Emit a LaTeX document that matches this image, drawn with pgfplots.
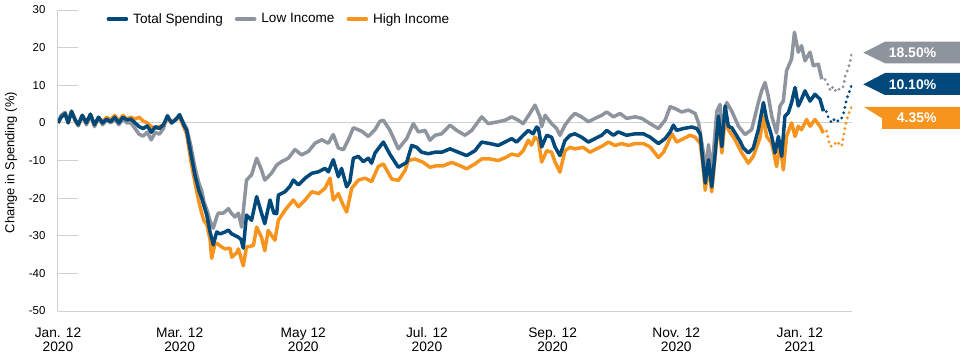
\documentclass[border=0pt]{standalone}
\usepackage{pgfplots}
\pgfplotsset{compat=1.18}
\usepackage{fontspec}
\setmainfont{Liberation Sans}
\definecolor{tsblue}{RGB}{0,73,122}
\definecolor{lowgray}{RGB}{142,148,158}
\definecolor{highorange}{RGB}{247,148,30}
\definecolor{axgray}{RGB}{208,208,208}
\begin{document}
\begin{tikzpicture}
\begin{axis}[
  at={(0,0)}, anchor=south west,
  scale only axis, width=794bp, height=301bp,
  xmin=0, xmax=391.7, ymin=-50, ymax=30,
  enlargelimits=false,
  axis x line*=bottom, axis y line*=left,
  axis line style={-, draw=axgray, line width=1bp},
  ytick={-50,-40,-30,-20,-10,0,10,20,30},
  ytick pos=left, tick align=inside,
  major tick length=20bp,
  ytick style={draw=axgray, line width=1bp},
  xtick style={draw=none},
  xtick={0,60,121,182,244,305,366},
  xticklabels={{Jan. 12\\2020},{Mar. 12\\2020},{May 12\\2020},{Jul. 12\\2020},{Sep. 12\\2020},{Nov. 12\\2020},{Jan. 12\\2021}},
  xticklabel style={align=center, font=\fontsize{13.8}{14}\selectfont, yshift=-13bp},
  yticklabel style={font=\fontsize{11.5}{12}\selectfont, xshift=-9bp},
  /pgf/number format/assume math mode=true,
  ylabel={Change in Spending (\%)},
  ylabel style={at={(rel axis cs:-0.0592,0.493)}, anchor=center, font=\fontsize{13}{14}\selectfont},
  legend image code/.code={\draw[#1] (0bp,0bp) -- (18bp,0bp);},
  legend style={at={(rel axis cs:0.061,0.97)}, anchor=west, draw=none, fill=none,
    font=\fontsize{13.6}{14}\selectfont, inner sep=0pt,
    /tikz/every odd column/.append style={column sep=3bp},
    /tikz/every even column/.append style={column sep=10bp}},
  legend columns=3,
  line join=round,
]
\addlegendimage{color=tsblue, line width=3.6bp, line cap=round}
\addlegendentry{Total Spending}
\addlegendimage{color=lowgray, line width=3.6bp, line cap=round}
\addlegendentry{Low Income}
\addlegendimage{color=highorange, line width=3.6bp, line cap=round}
\addlegendentry{High Income}

\addplot[forget plot, axgray, line width=1bp] coordinates {(0,0) (391.7,0)};

% Low Income (solid)
\addplot[forget plot, lowgray, line width=3.5bp] coordinates {
(0,0) (1.5,2) (3.5,2.8) (5,0.2) (6.7,3.2) (8.5,0.5) (10,-0.8) (12,2) (14,-0.5) (16,2)
(18,-1) (20,1.2) (22,-0.5) (24,0.8) (26,0) (28,1) (30,-0.5) (32,1) (34,0) (36,0)
(38,-1.5) (40,-3) (42,-3.5) (44,-2.5) (46,-4.5) (48,-2.5) (50,-3) (52,-1.5) (54,2) (56,0)
(58,1) (60,2) (62,0) (63.5,-1.5) (65.5,-6) (67.6,-12) (69.5,-16) (70.9,-18) (72,-21) (73.4,-23)
(75,-26) (76.6,-28) (78.3,-25) (79.1,-24) (81.5,-24) (84.1,-22.8) (85.5,-24) (87.3,-25) (89,-24) (90.6,-27.7)
(93,-15.2) (95.5,-13.8) (98,-9.4) (100.4,-12.5) (102,-15.2) (105.3,-13.4) (107.9,-11.2) (110.3,-10.3) (113.6,-9.4) (116.9,-7.1)
(120.2,-8.5) (123.5,-7.6) (126.8,-5.4) (130.1,-4.5) (133.4,-5.4) (135.8,-3.1) (138.3,-6.7) (140.8,-7.1) (143.2,-4.5) (145.7,-1.3)
(149.8,-2.2) (153.1,-3.6) (156.4,-1.8) (158.8,0.4) (160.5,0.7) (163.8,-2) (167.9,-6.9) (172,-4.2) (175.3,-0.2) (177.8,-2.4)
(181.1,-2) (183.5,-4.6) (186,-3.3) (189.3,-2.9) (193.4,-0.6) (196.7,-2) (200.8,-3.3) (204.1,-2) (209,1.6) (212.3,-0.2)
(217.2,0.3) (220.5,0.7) (223.8,1.6) (227.1,0.7) (229.5,-0.2) (232.8,2.5) (235.3,4.7) (237.8,1.6) (238.6,-1) (240.3,2)
(243.5,-0.2) (246,-1.5) (247.6,-3.3) (250.1,-0.6) (252.6,1.2) (255,2.5) (258.3,1.6) (261.6,0.3) (264.9,1.2) (268.2,2)
(270.7,2.9) (274,1.6) (277.3,2.5) (280.5,1.2) (284.7,1.6) (288,1.2) (292.1,-0.2) (296.2,-1.5) (299.5,0.7) (302,4.3)
(304.4,3.8) (307.7,2.9) (311,3.4) (314.3,2.5) (316,0) (318.4,-8) (319.3,-14.3) (320.9,-5.8) (322.5,-13.4) (325,3.1)
(326.6,4.9) (327.5,-1.8) (329.9,5.4) (332.4,3.1) (335.7,-0.9) (338.9,-3.1) (342.2,-1.8) (345.5,5.4) (347.1,8.5) (348.8,10.7)
(350.4,7.1) (352.1,1.8) (354.5,-2.7) (356.2,4.5) (357.8,5.8) (359.4,13.8) (361.9,17) (363.3,24.1) (365.2,18.8) (366.8,20.5)
(368.5,16.5) (371,18.8) (372.6,15.2) (375.1,15.6) (376.8,11.6)
};
\addplot[forget plot, lowgray, line width=3.2bp, line cap=round, dash pattern=on 0bp off 5.5bp] coordinates {
(378.4,11.5) (379.2,11) (380.9,8.8) (381.7,9.7) (383.3,8.4) (384.1,9.3) (385.8,8.8) (387.5,9.7) (388.3,12.4) (389.9,14.6) (390.8,16.4) (391.6,18.5)
};

% High Income (solid)
\addplot[forget plot, highorange, line width=3.5bp] coordinates {
(0,0) (1.5,1.5) (3.5,2.5) (5,0) (6.7,3) (8.5,0.8) (10,-0.5) (12,2) (14,0) (16,2.3)
(18,-0.5) (20,1.5) (22,0.3) (24,1.5) (26,0.8) (28,2) (30,0.5) (32,2) (34,1) (36,1.5)
(38,1) (40,1.5) (42,0.5) (44,0) (46,-1) (48,-1.5) (50,-1) (52,-0.5) (54,1) (56,0.3)
(58,0.8) (60,1.5) (62,-1) (63.5,-3) (65.5,-10) (67.6,-16) (69.5,-21) (70.9,-24) (72,-26) (73.4,-27)
(75,-31) (75.8,-36) (77.5,-32) (78.3,-32) (80.8,-33) (82.5,-33.5) (84.9,-33.3) (85.7,-35.7) (88.2,-34.5) (89,-33.5)
(91.4,-38) (93,-33) (96.4,-32.6) (98,-27.7) (100.4,-30.4) (102,-34) (103.7,-28.6) (107,-31.2) (108.7,-25.9) (112,-23.2)
(116.1,-20.5) (118.6,-22.3) (121.9,-20.5) (125.2,-18.3) (128.5,-18.8) (131.7,-17.4) (134.2,-14.7) (135.8,-20.5) (138.3,-18.8) (140.8,-22)
(142.4,-23.7) (144.9,-17.4) (148.2,-15.2) (151.5,-14.7) (154.7,-15.6) (158,-11.6) (160.5,-10.9) (164.6,-14.9) (167.9,-15.3) (171.2,-12.7)
(172.8,-10) (176.1,-9.6) (180.2,-10.5) (183.5,-11.8) (186.8,-11.4) (190.1,-11.4) (194.2,-10.5) (198.4,-11.4) (201.6,-12.2) (205.7,-10.9)
(209,-9.6) (213.1,-9.6) (217.2,-10) (221.3,-9.1) (223.8,-8.3) (227.1,-8.7) (229.5,-7.4) (232,-4.6) (233.6,-5.9) (235.3,-3.8)
(237,-4.6) (238.6,-10.4) (241.1,-7.4) (243.5,-7.8) (245.2,-10.4) (247.6,-13.1) (250.1,-7.4) (252.6,-6.5) (255,-6.9) (259.1,-6.5)
(262.4,-7.8) (265.7,-6.9) (269,-6) (271.5,-5.1) (274.8,-6) (278.1,-5.5) (281.4,-6) (284.7,-5.5) (288.8,-5.5) (292.1,-6.4)
(296.2,-9.2) (298.7,-7.8) (301.1,-5.1) (302.8,-2.9) (305.2,-5.1) (308.5,-4.2) (311.8,-3.3) (314.3,-3.8) (316.8,-5.4) (318.4,-12.5)
(319.3,-17.9) (320.9,-11.6) (322.5,-18.3) (324.2,-8.9) (325.8,0.9) (327.5,-8) (329.1,1.3) (330.7,-1.8) (334,-4.5) (337.3,-8)
(340.6,-10.7) (343,-8.9) (346.3,-4) (348,1.8) (349.6,-3.6) (352.1,-5.4) (354.5,-11.6) (356.2,-5.4) (357.8,-12.5) (359.4,-3.6)
(361.9,0) (363.6,-3.6) (365.2,-0.9) (366.8,-1.8) (369.3,0.9) (371,-0.9) (373.4,0.9) (375.9,-0.9) (377.6,-2.7)
};
\addplot[forget plot, highorange, line width=3.2bp, line cap=round, dash pattern=on 0bp off 5.5bp] coordinates {
(379.2,-2.2) (380,-4.4) (380.9,-6.2) (382.5,-6.2) (384.1,-4.9) (385.8,-5.8) (386.6,-6.2) (387.5,-3.5) (388.3,-1.3) (389.1,0.9) (390.8,3.5) (391.6,4.35)
};

% Total Spending (solid)
\addplot[forget plot, tsblue, line width=3.5bp] coordinates {
(0,0) (1.5,1.5) (3.5,2.5) (5,0) (6.7,3) (8.5,0.8) (10,-0.5) (12,2) (14,0) (16,2.3)
(18,-0.5) (20,1.5) (22,0) (24,1) (26,0.3) (28,1.5) (30,0) (32,1.5) (34,0.8) (36,1)
(38,0) (40,-1) (42,-1.5) (44,-0.8) (46,-2.5) (48,-1) (50,-1.5) (52,-0.5) (54,1.8) (56,0)
(58,0.8) (60,2.2) (62,-0.5) (63.5,-2) (65.5,-8) (67.6,-14) (69.5,-18) (70.9,-20) (72,-22) (73.4,-24.5)
(75,-29) (76.6,-32.4) (78.3,-29) (80,-29.5) (82.4,-29) (84,-28.5) (85.7,-29.5) (87.5,-30) (89,-30.4) (90.3,-31)
(91.4,-33.3) (93,-24.5) (95.5,-25.9) (98,-19.6) (100.4,-24) (102,-26.8) (104.6,-20.5) (106.5,-24) (107.9,-24.1) (108.7,-19.2)
(112,-18.3) (114.5,-16.8) (116.1,-15.2) (118.6,-16.5) (121.9,-14.7) (125.2,-13.4) (128.5,-13) (131.7,-12.1) (133.4,-13) (135.8,-9.8)
(138.3,-14.3) (139.9,-12.1) (142.4,-17) (144,-15.6) (145.7,-9.4) (148.2,-8.9) (150.6,-10.3) (153.1,-9.4) (154.7,-10.7) (156.4,-8)
(158.8,-6.3) (160.5,-5.1) (163.8,-8.4) (167.9,-11.8) (172,-10.5) (174.5,-6) (177,-6.5) (179.4,-7.8) (182.7,-8.2) (186,-7.8)
(189.3,-7.8) (193.4,-6.9) (197.5,-7.8) (201.6,-8.7) (205.7,-7.4) (209,-5.1) (213.1,-5.5) (217.2,-6) (220.5,-5.1) (223.8,-4.2)
(226.2,-5.1) (229.5,-3.3) (232,-2) (234.4,-2.9) (236.1,-1.1) (237,-1.5) (238.6,-6.4) (241.1,-3.3) (243.5,-3.8) (245.2,-6.4)
(247.6,-8.7) (250.1,-4.7) (252.6,-3.3) (255,-2.9) (258.3,-3.8) (261.6,-5.1) (264.9,-4.2) (268.2,-3.3) (270.7,-2) (274,-3.3)
(276.4,-2.4) (280.5,-3.3) (284.7,-2.9) (288.8,-2.9) (292.1,-3.8) (296.2,-5.5) (299.5,-4.2) (302,-2.4) (303.6,-0.6) (305.2,-2)
(308.5,-1.5) (312.6,-1.1) (315.1,-1.5) (316.8,-3) (318.4,-11.6) (319.3,-16) (320.9,-9.8) (322.5,-17) (324.2,-8) (325.8,1.8)
(327.5,-6.3) (329.1,4.5) (330.7,-0.9) (332.4,-1.3) (334,-2.7) (336.5,-4.9) (338.1,-6.7) (340.6,-8) (343,-6.7) (345.5,-1.8)
(348,5.4) (349.6,0.9) (352.1,-3.6) (353.7,-8) (355.4,-3.6) (357,-8.9) (358.6,1.8) (360.3,2.7) (361.9,5.4) (363.6,9.4)
(365.2,4.5) (366.8,6.3) (368.5,8.5) (371,5.8) (373.4,7.6) (375.9,6.3) (377.6,3.1)
};
\addplot[forget plot, tsblue, line width=3.2bp, line cap=round, dash pattern=on 0bp off 5.5bp] coordinates {
(379,3) (380,1.5) (381.7,0) (383.3,1.2) (385,0.4) (386.6,1.3) (387.5,2.5) (388.3,4.4) (389.1,6.5) (390.8,8.8) (391.6,10.1)
};
\end{axis}
% value tags at the right
\fill[lowgray] (805.3bp,258.3bp) -- (827bp,269.3bp) -- (902bp,269.3bp) -- (902bp,247.7bp) -- (827bp,247.7bp) -- cycle;
\fill[tsblue] (805.3bp,226.7bp) -- (827bp,238bp) -- (902bp,238bp) -- (902bp,216bp) -- (827bp,216bp) -- cycle;
\fill[highorange] (806bp,204bp) -- (902bp,204bp) -- (902bp,182bp) -- (824bp,182bp) -- (824bp,192.7bp) -- cycle;
\node[white, font=\fontsize{14}{14}\selectfont\bfseries] at (854.5bp,258.3bp) {18.50\%};
\node[white, font=\fontsize{14}{14}\selectfont\bfseries] at (854.5bp,226.7bp) {10.10\%};
\node[white, font=\fontsize{14}{14}\selectfont\bfseries] at (858.7bp,193bp) {4.35\%};
\pgfresetboundingbox
\path (-58bp,-52bp) rectangle (902bp,311bp);
\end{tikzpicture}
\end{document}
